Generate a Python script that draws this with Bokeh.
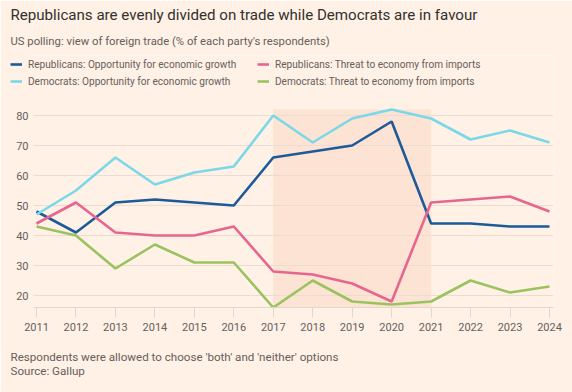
from bokeh.plotting import figure
from bokeh.models import (ColumnDataSource, Legend, LegendItem, BoxAnnotation,
                          FixedTicker, Range1d, Title)
from bokeh.embed import file_html
from bokeh.resources import INLINE

years = [2011, 2012, 2013, 2014, 2015, 2016, 2017, 2018, 2019, 2020, 2021, 2022, 2023, 2024]
rep_opportunity = [48, 41, 51, 52, 51, 50, 66, 68, 70, 78, 44, 44, 43, 43]
rep_threat = [44, 51, 41, 40, 40, 43, 28, 27, 24, 18, 51, 52, 53, 48]
dem_opportunity = [47, 55, 66, 57, 61, 63, 80, 71, 79, 82, 79, 72, 75, 71]
dem_threat = [43, 40, 29, 37, 31, 31, 16, 25, 18, 17, 18, 25, 21, 23]
shade_start, shade_end, shade_top = 2017, 2021, 82
y_ticks = [20, 30, 40, 50, 60, 70, 80]

series_keys = ["ro", "rt", "do", "dt"]
series_labels = ["Republicans: Opportunity for economic growth",
                 "Republicans: Threat to economy from imports",
                 "Democrats: Opportunity for economic growth",
                 "Democrats: Threat to economy from imports"]
series_colors = ["#1D5A99", "#E6668F", "#7AD8E8", "#9AC35F"]

title = "Republicans are evenly divided on trade while Democrats are in favour"
subtitle = "US polling: view of foreign trade (% of each party's respondents)"
note = "Respondents were allowed to choose 'both' and 'neither' options"
source = "Source: Gallup"

BG = "#FFF1E5"
FONT = "Roboto"
TEXT = "#33302E"
GREY = "#66605C"

# layout (pixels)
W, H = 572, 392
FRAME_L, FRAME_T, FRAME_B = 10, 55, 307
PX_PER_YEAR = 39.46
PX_PER_UNIT = 3.0
GRID_START = 33
x_lo = years[0] - (36 - FRAME_L) / PX_PER_YEAR
x_hi = years[-1] + (553 - 549) / PX_PER_YEAR
y_lo = 16
y_hi = y_lo + (FRAME_B - FRAME_T) / PX_PER_UNIT
grid_left = years[0] - (36 - GRID_START) / PX_PER_YEAR

p = figure(width=W, height=H, output_backend="svg", toolbar_location=None, title=None,
           x_range=Range1d(x_lo, x_hi), y_range=Range1d(y_lo, y_hi),
           min_border_left=FRAME_L, min_border_right=W - 553, min_border_top=FRAME_T,
           min_border_bottom=H - FRAME_B)
p.background_fill_color = BG
p.border_fill_color = BG
p.outline_line_color = None

# shaded period (drawn beneath the grid)
p.add_layout(BoxAnnotation(left=shade_start, right=shade_end, top=shade_top,
                           fill_color="#FCE3D4", fill_alpha=1, line_color=None, level="image"))

src = ColumnDataSource(dict(x=years, ro=rep_opportunity, rt=rep_threat,
                            do=dem_opportunity, dt=dem_threat))
rs = {}
for key, c in zip(series_keys, series_colors):
    rs[key] = p.line("x", key, source=src, line_color=c, line_width=2.6)

p.xaxis.ticker = FixedTicker(ticks=years)
p.yaxis.ticker = FixedTicker(ticks=y_ticks)
p.xgrid.grid_line_color = None
p.ygrid.grid_line_color = "#EADCD0"
p.ygrid.grid_line_width = 1
# keep the gridlines clear of the value labels on the left
p.add_layout(BoxAnnotation(right=grid_left, fill_color=BG, fill_alpha=1,
                           line_color=None, level="underlay"))

for ax in (p.xaxis, p.yaxis):
    ax.major_label_text_font = FONT
    ax.major_label_text_color = GREY
    ax.major_label_text_font_size = "11px"
    ax.minor_tick_line_color = None
p.xaxis.axis_line_color = "#E3D6CB"
p.xaxis.major_tick_line_color = "#E3D6CB"
p.xaxis.major_tick_out = 10
p.xaxis.major_tick_in = 0
p.xaxis.major_label_standoff = 5
p.xaxis.bounds = (grid_left, x_hi)
p.yaxis.axis_line_color = None
p.yaxis.major_tick_line_color = None
p.yaxis.major_tick_out = 0
p.yaxis.major_tick_in = 0
p.yaxis.major_label_standoff = -18

# legend: two columns, placed above the data area
order = [0, 2, 1, 3]
legend = Legend(items=[LegendItem(label=series_labels[i], renderers=[rs[series_keys[i]]])
                       for i in order],
                ncols=2, location=(0, FRAME_B - 87))
legend.background_fill_alpha = 0
legend.border_line_color = None
legend.label_text_font = FONT
legend.label_text_font_size = "10.1px"
legend.label_text_color = GREY
legend.glyph_width = 12
legend.glyph_height = 12
legend.label_height = 12
legend.label_width = 224
legend.label_standoff = 6
legend.spacing = 5
legend.padding = 0
legend.margin = 0
p.add_layout(legend)

# subtitle (nearer the plot) then title (top)
p.add_layout(Title(text=subtitle, align="left", offset=0, standoff=16, text_font=FONT,
                   text_font_size="11.3px", text_color=GREY, text_font_style="normal"), "above")
p.add_layout(Title(text=title, align="left", offset=0, standoff=2, text_font=FONT,
                   text_font_size="15.1px", text_color=TEXT, text_font_style="normal"), "above")

p.add_layout(Title(text=note + "\n" + source, align="left", offset=0, standoff=29,
                   text_font=FONT, text_font_size="11.6px", text_line_height=0.99,
                   text_color=GREY, text_font_style="normal"), "below")

open("out.html", "w").write(file_html(p, INLINE))
